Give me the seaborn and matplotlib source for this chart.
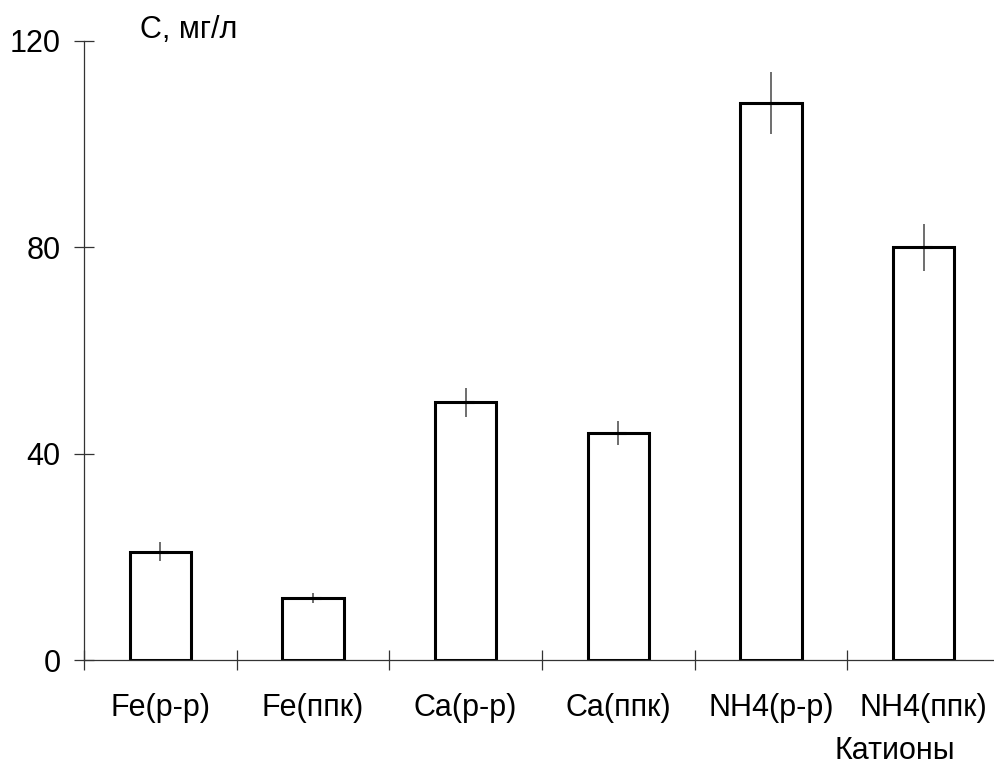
import numpy as np
import pandas as pd
import matplotlib
matplotlib.use("Agg")
import matplotlib.pyplot as plt
import seaborn as sns

categories = ["Fe(р-р)", "Fe(ппк)", "Ca(р-р)", "Ca(ппк)", "NH4(р-р)", "NH4(ппк)"]
values = [21, 12, 50, 44, 108, 80]
errors = [1.8, 1.0, 2.8, 2.3, 6.0, 4.5]
yticks = [0, 40, 80, 120]
ylabel = "С, мг/л"
xlabel = "Катионы"

sns.set_style("white")
plt.rcParams["font.family"] = ["Liberation Sans", "DejaVu Sans"]
plt.rcParams["text.color"] = "black"

df = pd.DataFrame({"cat": categories, "val": values, "err": errors})

fig = plt.figure(figsize=(9.94, 7.65), dpi=100)
ax = fig.add_axes([84 / 994, 1 - 660 / 765, 916 / 994, 619 / 765])

sns.barplot(data=df, x="cat", y="val", order=categories, color="white",
            edgecolor="black", linewidth=2.2, width=0.4, ax=ax, errorbar=None,
            saturation=1)

pos = np.arange(len(categories))
ax.errorbar(pos, df["val"], yerr=df["err"], fmt="none", ecolor="#555555",
            elinewidth=1.2, capsize=0, zorder=5)
ax.plot(pos + 0.02, df["val"], linestyle="none", marker="_", markersize=7,
        markeredgewidth=2.2, color="black", zorder=6)

ax.set_xlim(-0.5, len(categories) - 0.5)
ax.set_ylim(0, 120)
ax.set_yticks(yticks)
ax.set_yticklabels([str(t) for t in yticks])

ax.set_xticks(np.arange(len(categories)) - 0.5)
ax.set_xticklabels([])
ax.set_xticks(pos, minor=True)
ax.set_xticklabels(categories, minor=True)

ax.tick_params(axis="both", which="major", direction="inout", length=14,
               width=0.9, color="#333333", labelsize=22, labelcolor="black",
               bottom=True, left=True)
ax.tick_params(axis="y", which="major", pad=10)
ax.tick_params(axis="x", which="minor", length=0, labelsize=22, pad=24,
               labelcolor="black", bottom=True)

for s in ["top", "right"]:
    ax.spines[s].set_visible(False)
for s in ["left", "bottom"]:
    ax.spines[s].set_color("#333333")
    ax.spines[s].set_linewidth(0.9)

ax.set_xlabel("")
ax.set_ylabel("")
fig.text(140 / 994, 1 - 30 / 765, ylabel, fontsize=22, ha="left", va="center",
         color="black")
fig.text(895 / 994, 1 - 751 / 765, xlabel, fontsize=22, ha="center", va="center",
         color="black")

fig.savefig("out.png", dpi=100, facecolor="white")
